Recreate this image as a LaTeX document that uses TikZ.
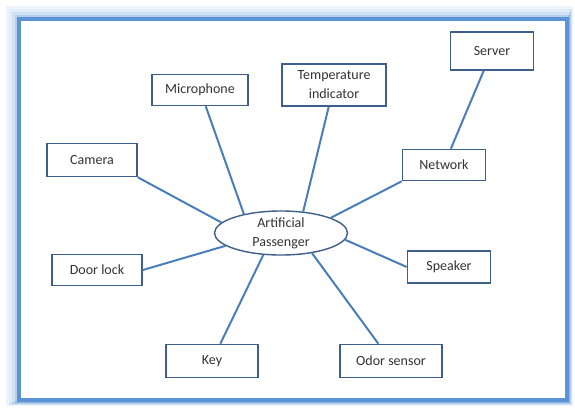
\documentclass[tikz,border=0pt]{standalone}
\usepackage{fontspec}
\setmainfont{Carlito}
\usetikzlibrary{shapes.geometric, positioning, calc}
\definecolor{frameblue}{HTML}{5B93D6}
\definecolor{linkblue}{HTML}{4A7EBB}
\definecolor{boxblue}{HTML}{3E5F8A}
\definecolor{txtgray}{HTML}{333333}

\begin{document}
\begin{tikzpicture}[x=1pt, y=-1pt,
    part/.style={draw=boxblue, line width=1.6pt, fill=white, text=txtgray,
        font=\fontsize{14}{19}\selectfont, align=center, inner sep=0pt},
    hub/.style={ellipse, draw=boxblue, line width=1.4pt, fill=white, text=txtgray,
        font=\fontsize{14}{19}\selectfont, align=center, inner sep=0pt,
        minimum width=133pt, minimum height=42pt},
    link/.style={draw=linkblue, line width=2pt}]
    \useasboundingbox (0,0) rectangle (575,408);

    % glowing frame
    \foreach \g/\op in {12/0.10, 9/0.18, 6/0.28, 3/0.45}
        \draw[frameblue, line width=3pt, opacity=\op] (19-\g,19-\g) rectangle (567+\g/3,400+\g/3);
    \draw[frameblue, line width=4pt] (19,19) rectangle (567,400);

    % centre
    \node[hub] (ap) at (281,233) {Artificial\\Passenger};

    % parts round it
    \node[part, minimum width=96pt, minimum height=31pt] (mic) at (200,90) {Microphone};
    \node[part, minimum width=104pt, minimum height=42pt] (temp) at (334,85) {Temperature\\indicator};
    \node[part, minimum width=83pt, minimum height=38pt] (srv) at (492,51) {Server};
    \node[part, minimum width=90pt, minimum height=33pt] (cam) at (92,160) {Camera};
    \node[part, minimum width=83pt, minimum height=31pt] (net) at (444,165) {Network};
    \node[part, minimum width=90pt, minimum height=31pt] (door) at (97,270) {Door lock};
    \node[part, minimum width=83pt, minimum height=32pt] (spk) at (449,267) {Speaker};
    \node[part, minimum width=92pt, minimum height=33pt] (key) at (212,361) {Key};
    \node[part, minimum width=102pt, minimum height=33pt] (odor) at (391,361) {Odor sensor};

    % connectors
    \draw[link] (mic) -- (ap.153);
    \draw[link] (temp) -- (ap.44);
    \draw[link] (net.south west) -- (ap.17);
    \draw[link] (net) -- (srv);
    \draw[link] (cam.south east) -- (ap.170);
    \draw[link] (door.east) -- (ap.193);
    \draw[link] (spk.west) -- (ap.354);
    \draw[link] (key) -- (ap.231);
    \draw[link] (odor) -- (ap.327);
\end{tikzpicture}
\end{document}
